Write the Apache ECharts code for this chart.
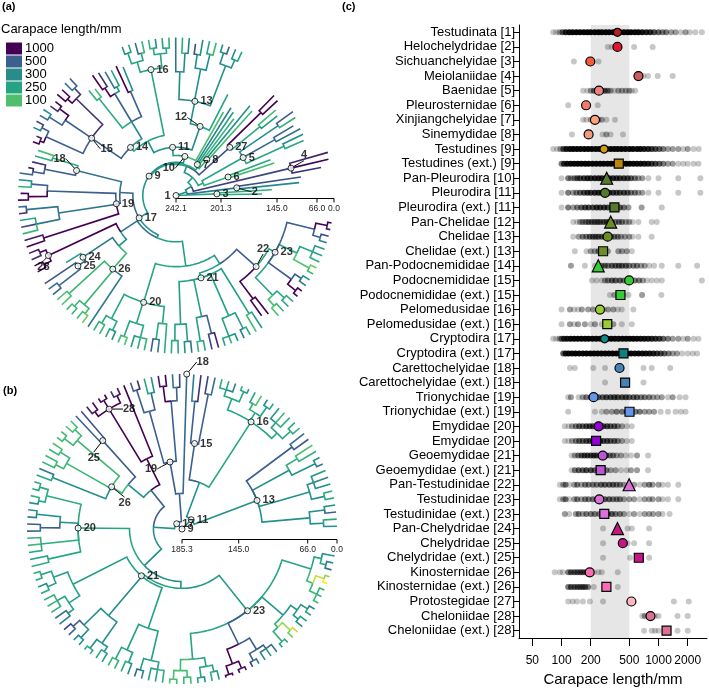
<!DOCTYPE html>
<html>
<head>
<meta charset="utf-8">
<script src="https://cdn.jsdelivr.net/npm/echarts@6/dist/echarts.min.js"></script>
</head>
<body style="margin:0">
<div id="chart" style="width:709px;height:692px"></div>
<script type="text/javascript">
// ---- panel (c) data ----
var rowLabels = ['Testudinata [1]', 'Helochelydridae [2]', 'Sichuanchelyidae [3]', 'Meiolaniidae [4]', 'Baenidae [5]',
  'Pleurosternidae [6]', 'Xinjiangchelyidae [7]', 'Sinemydidae [8]', 'Testudines [9]', 'Testudines (ext.) [9]',
  'Pan-Pleurodira [10]', 'Pleurodira [11]', 'Pleurodira (ext.) [11]', 'Pan-Chelidae [12]', 'Chelidae [13]',
  'Chelidae (ext.) [13]', 'Pan-Podocnemididae [14]', 'Podocnemididae [15]', 'Podocnemididae (ext.) [15]',
  'Pelomedusidae [16]', 'Pelomedusidae (ext.) [16]', 'Cryptodira [17]', 'Cryptodira (ext.) [17]',
  'Carettochelyidae [18]', 'Carettochelyidae (ext.) [18]', 'Trionychidae [19]', 'Trionychidae (ext.) [19]',
  'Emydidae [20]', 'Emydidae [20]', 'Geoemydidae [21]', 'Geoemydidae (ext.) [21]', 'Pan-Testudinidae [22]',
  'Testudinidae [23]', 'Testudinidae (ext.) [23]', 'Pan-Chelydridae [24]', 'Chelydridae [25]',
  'Chelydridae (ext.) [25]', 'Kinosternidae [26]', 'Kinosternidae (ext.) [26]', 'Protostegidae [27]',
  'Cheloniidae [28]', 'Cheloniidae (ext.) [28]'];

var cladeMean = [377, 377, 198, 621, 243, 179, 221, 190, 274, 389, 292, 281, 351, 321, 299, 268, 239, 498, 405,
  249, 296, 278, 435, 396, 452, 214, 502, 241, 227, 266, 253, 498, 245, 276, 377, 428, 626, 195, 290, 525, 826, 1210];

// [carapace length mm, number of taxa at about that size]
var speciesLengths = [
  [[82,1],[88,1],[95,2],[102,4],[110,8],[120,12],[130,14],[142,15],[155,15],[170,15],[185,15],[200,15],[220,15],[240,15],[260,15],[285,15],[310,15],[340,15],[370,15],[400,15],[440,15],[480,15],[520,14],[570,12],[620,12],[680,10],[750,8],[820,7],[900,5],[1000,4],[1100,3],[1200,3],[1350,2],[1500,2],[1700,1],[1900,2],[2100,1],[2400,1],[2800,1]],
  [[300,1],[330,1],[377,1],[560,1],[870,1]],
  [[134,1],[198,1],[240,1]],
  [[620,1],[700,1],[780,1],[980,1],[1400,1]],
  [[167,1],[185,1],[200,2],[215,3],[230,4],[245,4],[260,4],[280,4],[300,3],[320,2],[350,1],[385,2],[420,2],[460,2],[500,2],[530,1],[575,1]],
  [[117,1],[177,1],[236,1]],
  [[167,1],[180,1],[200,2],[221,2],[240,2],[260,2],[290,1],[356,1]],
  [[128,1],[188,1],[265,1],[290,2],[320,1],[430,1]],
  [[82,1],[90,1],[97,2],[104,5],[112,9],[122,12],[132,14],[144,15],[157,15],[172,15],[188,15],[205,15],[225,15],[245,15],[268,15],[292,15],[320,15],[350,15],[380,15],[415,15],[455,15],[500,14],[545,13],[600,12],[650,11],[710,9],[780,8],[850,6],[930,5],[1020,4],[1120,3],[1250,2],[1400,2],[1600,2],[1800,1],[2000,2],[2300,1],[2600,1]],
  [[100,3],[106,6],[114,10],[124,12],[135,14],[147,15],[160,15],[175,15],[190,15],[208,15],[228,15],[250,15],[272,15],[298,15],[325,15],[355,15],[388,15],[424,15],[463,15],[505,14],[550,12],[600,12],[655,11],[715,9],[780,8],[850,6],[930,5],[1020,4],[1120,3],[1250,2],[1400,2],[1600,1],[1800,1],[2000,1],[2300,1],[2580,1]],
  [[100,1],[117,3],[125,2],[135,3],[145,4],[155,5],[170,6],[185,7],[200,7],[220,8],[240,8],[260,8],[285,7],[310,7],[340,7],[370,6],[400,6],[440,6],[480,5],[520,4],[570,3],[620,2],[680,2],[785,1],[1000,1],[1600,1],[2700,1]],
  [[100,1],[117,3],[131,2],[142,3],[155,4],[170,5],[185,6],[200,6],[220,7],[240,7],[260,7],[285,6],[310,6],[340,6],[370,5],[400,5],[440,5],[480,4],[520,3],[570,3],[620,2],[680,2],[785,1],[1000,1],[1600,1],[2700,1]],
  [[100,1],[117,3],[132,2],[145,3],[160,4],[175,5],[190,5],[210,5],[230,6],[250,6],[275,6],[300,5],[330,5],[360,4],[400,4],[440,3],[490,2],[670,2],[1080,1]],
  [[132,1],[145,1],[155,2],[165,3],[178,3],[190,4],[205,4],[220,4],[235,4],[250,4],[270,4],[290,4],[310,4],[330,4],[360,3],[390,3],[420,3],[460,2],[500,2],[540,1],[620,1],[850,1],[960,1]],
  [[132,1],[150,2],[165,3],[180,3],[195,4],[210,4],[225,4],[240,4],[260,4],[280,4],[300,4],[325,3],[350,3],[380,3],[410,2],[450,2],[500,2],[540,1],[620,1],[850,1]],
  [[137,1],[181,1],[200,2],[220,2],[240,3],[268,3],[300,2],[385,2],[420,2],[470,2],[530,1]],
  [[125,2],[174,1],[221,1],[240,2],[260,3],[280,3],[300,3],[330,4],[360,4],[390,4],[420,4],[460,4],[500,3],[550,3],[600,3],[660,2],[720,2],[800,1],[900,1],[1080,1],[1600,1],[2500,1]],
  [[206,1],[230,1],[260,1],[280,2],[300,3],[330,4],[360,4],[400,4],[440,3],[480,3],[520,3],[570,3],[630,3],[690,2],[760,1],[850,1],[960,1],[1080,1],[2800,1]],
  [[316,1],[350,2],[390,2],[430,1],[490,1],[677,2],[1070,1]],
  [[100,1],[122,2],[135,1],[148,1],[162,2],[188,2],[211,2],[249,2],[275,1],[302,2],[342,2],[380,1],[418,1],[550,1]],
  [[100,1],[122,2],[135,1],[148,2],[174,2],[200,1],[221,2],[260,1],[296,2],[342,2],[418,1],[530,1]],
  [[82,1],[88,1],[95,2],[100,4],[106,7],[114,10],[124,13],[135,15],[147,15],[160,15],[175,15],[190,15],[208,15],[228,15],[250,15],[272,15],[298,15],[325,15],[355,15],[388,15],[424,15],[463,15],[505,14],[550,13],[600,12],[655,11],[715,10],[780,9],[850,8],[930,7],[1020,6],[1120,4],[1250,3],[1400,2],[1600,2],[1800,1],[2000,2],[2300,1],[2580,1]],
  [[104,4],[110,8],[118,11],[128,13],[139,15],[152,15],[166,15],[181,15],[198,15],[216,15],[236,15],[258,15],[282,15],[308,15],[336,15],[367,15],[400,15],[437,15],[477,14],[520,13],[570,12],[622,12],[680,11],[742,10],[810,9],[885,8],[966,6],[1055,5],[1150,4],[1270,3],[1400,2],[1550,2],[1750,1],[2000,1],[2250,1],[2500,1]],
  [[122,1],[137,1],[212,1],[281,1],[396,1],[700,1],[850,1],[1320,1]],
  [[281,1],[452,1],[700,1]],
  [[117,1],[125,2],[150,1],[165,2],[180,3],[200,3],[220,4],[240,4],[265,4],[290,5],[320,5],[350,5],[380,5],[420,5],[460,5],[500,4],[550,4],[600,4],[660,3],[720,3],[800,3],[880,2],[970,2],[1080,2],[1250,1],[1400,2],[1650,1],[1900,1]],
  [[117,1],[221,1],[260,1],[290,2],[330,2],[370,3],[420,3],[470,4],[520,4],[580,3],[640,3],[720,2],[800,2],[900,2],[1050,1],[1250,1],[1500,1],[1700,1],[1900,1]],
  [[108,1],[118,1],[128,2],[140,3],[152,4],[165,4],[180,5],[195,5],[210,5],[230,5],[250,5],[270,5],[295,5],[320,4],[350,4],[380,3],[420,2],[470,1],[530,1]],
  [[108,1],[118,1],[128,2],[140,3],[152,4],[165,4],[180,5],[195,5],[210,5],[227,5],[250,5],[270,5],[295,5],[320,4],[350,4],[380,3],[420,2],[470,1],[530,1]],
  [[127,1],[137,2],[148,3],[160,4],[172,5],[185,5],[200,5],[215,5],[230,5],[250,5],[270,4],[290,4],[315,3],[340,3],[370,2],[410,2],[460,1],[520,1],[600,2],[780,1]],
  [[127,1],[137,3],[150,4],[165,4],[180,5],[200,5],[220,4],[240,4],[265,3],[290,3],[320,2],[360,2],[410,1],[470,1],[520,2],[600,2],[780,1]],
  [[96,1],[104,2],[110,3],[120,1],[135,2],[145,3],[160,2],[175,3],[190,3],[210,3],[230,3],[255,4],[280,4],[310,4],[340,4],[370,3],[400,3],[440,2],[500,2],[560,2],[640,1],[720,2],[800,3],[870,2],[1000,2],[1100,1],[1250,1],[1600,1]],
  [[96,1],[104,2],[110,3],[120,1],[135,2],[145,3],[160,2],[175,3],[190,3],[210,3],[230,3],[255,4],[280,4],[310,4],[340,3],[370,3],[400,3],[440,2],[500,2],[560,2],[640,1],[720,2],[800,2],[870,2],[1000,2],[1100,1],[1250,1],[1600,1]],
  [[108,2],[120,1],[140,2],[150,3],[165,2],[180,3],[200,3],[220,3],[245,3],[276,3],[300,4],[330,4],[360,3],[400,3],[440,2],[500,1],[560,2],[640,1],[720,2],[800,2],[880,2],[1000,2],[1100,1],[1300,1]],
  [[268,1],[377,1],[480,1],[530,1],[800,1]],
  [[268,1],[428,1],[480,1],[560,1],[800,1]],
  [[268,1],[509,1],[626,1],[800,1]],
  [[85,1],[96,1],[103,1],[117,3],[125,4],[135,4],[145,4],[155,4],[165,4],[175,3],[185,3],[195,2],[215,1],[240,1],[260,1],[380,1]],
  [[117,3],[125,4],[135,4],[145,4],[155,4],[165,4],[175,4],[188,3],[215,1],[281,1],[380,1]],
  [[117,1],[130,1],[144,1],[166,1],[196,1],[268,1],[525,1],[1440,1],[2050,1]],
  [[680,1],[720,2],[780,2],[850,2],[920,1],[1000,1],[1570,1],[2000,1]],
  [[710,1],[850,1],[920,1],[1000,1],[1210,1],[1570,1],[2000,1]]
];

var xTicks = [50, 100, 200, 500, 1000, 2000];
var bandRange = [200, 500];

// marker styles for panel (c)
var markerShape = ['circle','circle','circle','circle','circle','circle','circle','circle','circle','rect',
  'triangle','circle','rect','triangle','circle','rect','triangle','circle','rect','circle','rect',
  'circle','rect','circle','rect','circle','rect','circle','rect','circle','rect',
  'triangle','circle','rect','triangle','circle','rect','circle','rect','circle','circle','rect'];
var markerColor = ['#b22222','#e3152f','#f25a38','#cd5c5c','#f08080','#f47a6b','#ffa07a','#ee9a7c','#cf9b12','#b8860b',
  '#557a2e','#557a2e','#557a2e','#6b8e23','#6b8e23','#6b8e23','#32cd32','#32cd32','#32cd32','#9acd32','#9acd32',
  '#0e8b8b','#0e8080','#4682b4','#4682b4','#6495ed','#6495ed','#9400d3','#9400d3','#ba55d3','#ba55d3',
  '#dd6fdd','#dd6fdd','#dd6fdd','#c71585','#c71585','#c71585','#ff69b4','#ff69b4','#ffb6c1','#db7093','#db7093'];
var smallRows = [0, 8, 21];

// ---- trees: (children)nLabel@age=carapace ; leaves default to age 0 and parent's size ----
var treeA = '(' +
  '(@160,@150)n3@205=200,' +
  '((@100=330,@95=560)n2@185=380,' +
   '((@40=700,@5=1000,@0.5=780)n4@111=620,' +
    '(((@140=120,@145=236)n6@191=180,' +
      '((@70=200,@66=300)@110=250,(@66=410,@75=470)@120=440,(@60=180,@55=520)@100=300)n5@169=250)@215=220,' +
     '(((@90=270,@85=140)@130=200,(@70=1440,@68=2050)@110=1000)n27@174=525,' +
      '(((@120=130,@115=300)n8@199=190,(@150=165,@145=260,@140=356)n7@208=220)@210=220,' +
       '(' +
        // Pan-Pleurodira
        '(@150=120,' +
         '((@120=250,' +
           '(((=250,=300)@40,(=500,=300)@30)@70=300,((=150,=250)@50,(=300,@20=560)@60)@90=300,((=350,=200)@60,=400)@100=320)n13@150=300' +
          ')n12@173=320,' +
          '((((=200,=250)@40,(=300,=180)@35)@60=250,((=150,=420)@45,(=250,=300)@30)@70=250)n16@91=250,' +
           '(((@70=300,@60=1600)@120=500,((@66=250,@60=400)@100=300,(@50=700,@45=2500)@90=1000)@110=500,(@80=125,@75=174)@100=200)@160=300,' +
            '(((=500,=400)@40,(@10=1000,@8=2800)@50=1000)@70=700,((@20=1100,@15=680)@50=1000,(=300,=450)@35)@80=500,((=600,=350)@30,(@25=800,@20=1200)@45=1000)@60=500)n15@143=500' +
           ')n14@180=240' +
          ')@185=300' +
         ')n11@198=280' +
        ')n10@205.8=290,' +
        // Pan-Cryptodira
        '((((@50=122,@45=212)@90=200,(@40=700,(@30=850,=450)@50=500)@80=500)n18@142=400,' +
          '(((=300,=200)@50,(@10=1900,=1000)@40=1000)@90=500,((=450,=700)@30,(=250,=600,=150)@60)@110=400,(=800,=1200)@70=1000)n19@186=500' +
         ')@190=450,' +
         '((((=850,=700)@40,(=1500,=2000)@35)n28@66=1000,' +
            '((@90=268,(=530,(=420,=480)@40=450)n25@106=430)n24@124=380,' +
             '((=120,=100)@50,((=150,=180)@30,(=130,=90)@35)@60,=380)n26@149=150' +
            ')@170=300' +
           ')@180=400,' +
          '((((=200,=150)@40,(=250,=300)@35)@70,((=130,=110)@30,(=270,=220,=180)@45)@80,((=500,=350)@50,=200)@90)n20@124=240,' +
           '((((=200,=250)@50,(=300,=400)@45)@90,((=160,=220)@40,(=600,=780)@60=500)@100,((=250,=180,=300)@30,(=350,=200)@35)@85,(=130,=270)@70)n21@160=260,' +
            '((@40=1600,@30=1200)@90=1000,' +
             '(((=100,=150)@40=120,(=250,=180)@35)@70,((@0.5=1000,=1200)@20=1000,(=400,=300)@30)@60=500,((=130,=90)@25=100,(=200,=250,=270)@40)@80,((=350,=600)@30,(=800,=1000)@15=1000)@60=500)n23@119=245' +
            ')n22@133=500' +
           ')@165=270' +
          ')@175=260' +
         ')@200=300' +
        ')n17@203=280' +
       ')n9@212=280' +
      ')@213=260' +
     ')@214=300' +
    ')@220=260' +
   ')@226=300' +
  ')@232=300' +
')n1@242.1=300';

var treeB = '(' +
  '((((=300,=250)@30,(=500,=300)@25)@60,((=250,=200)@20,(=300,=350,=280)@35)@50,((=400,=300)@15,(=180,=120)@45=200)@70,(=520,=450)@40=500)n13@118=300,' +
   '((((=200,=250)@20,(=180,=150,=300)@30)@45,((=250,=300)@15,(=100,=250)@25=180)@40,((=270,=220)@10,(=350,=250,=200)@20)@35)n16@62=250,' +
    '((=450,=600)@40=500,(=700,=350)@60)n15@111=500' +
   ')@150=300' +
  ')n11@176=300,' +
  '((n18=450,' +
    '(((=600,=400)@30,(=1000,=800)@25=1000)@60,((=300,=250)@35,(=700,=500)@20)@70)n19@132=500' +
   ')@160=500,' +
   '(((=1800,((=850,=700)@15,(=1000,=900)@10,(=950,=800)@20)n28@33=1000)@120=1000,' +
      '((=550,=480)n25@74=500,' +
       '(((=120,=100)@20,(=150,=130)@15)@40,((=110,=160)@25,(=140,=180)@30)@50,(=380,=250)@35=300)n26@116=150' +
      ')@130=300' +
     ')@150=500,' +
    '((((=200,=250)@15,(=180,=300)@20)@35=220,((=300,=350)@20,(=500,=450)@30=500)@70=300,(=180,=140,=230)@30=200,(=260,=210)@40)n20@91=250,' +
     '(((((=200,=250)@15,(=300,=220)@20)@40,((=180,=160,=200)@25,(=400,=350)@30)@45)@70,(((=600,=500)@20=500,(=300,=280)@15)@40,((=250,=200)@10,(=230,=270)@22)@35)@80=300,(((=150,=180)@20,(=220,=300)@25)@50,((=450,=350)@18,(=260,=240,=210)@28)@45)@90=260)n21@139=260,' +
      '((((=100,=120)@10=110,(=150,=130)@15)@30=130,((=250,=300)@12,(=200,=280)@20)@35)@55=250,' +
       '(((=1000,=1200)@5=1000,(=900,=800)@8=1000)@25=1000,((=600,=400)@12=500,(=350,=300,=450)@20)@30)@60=500,' +
       '(((=250,=180)@10,(=90,=70)@15=80)@40=200,((=300,=260)@18,(=220,=330)@14)@32)@50=280,' +
       '(((=150,=200,=180)@12,(=60,=80)@10=70)@30=150,((=400,=350)@15,=280)@28)@45=250)n23@90=280' +
     ')@142=300' +
    ')@148=300' +
   ')@165=300' +
  ')n17@180=300' +
')n9@185.3=300';

// time-scale ticks (Ma) of each tree
var scaleAgesA = [242.1, 201.3, 145.0, 66.0, 0.0];
var scaleAgesB = [185.3, 145.0, 66.0, 0.0];

// ---- layout settings ----
var radiiA = [0, 45, 101, 141, 158];
var radiiB = [0, 56.7, 125.7, 155];
var centerA = [176, 195.5], centerB = [182, 529];
var barOffsetA = 3, barOffsetB = 10.5;
var sizeStops = [60, 100, 250, 300, 500, 1000];
var viridis = ['#fde725', '#4ec36b', '#25a584', '#21908d', '#3b5f8f', '#440154'];

function makeScale(ages, radii) {
  return function (age) {
    if (age >= ages[0]) return radii[0];
    for (var i = 1; i < ages.length; i++) {
      if (age >= ages[i]) {
        var t = (ages[i - 1] - age) / (ages[i - 1] - ages[i]);
        return radii[i - 1] + t * (radii[i] - radii[i - 1]);
      }
    }
    return radii[radii.length - 1];
  };
}

function colorIndex(v) {
  if (v <= sizeStops[0]) return 0;
  if (v >= sizeStops[5]) return 5;
  for (var i = 1; i < sizeStops.length; i++) {
    if (v <= sizeStops[i]) return i - 1 + Math.log(v / sizeStops[i - 1]) / Math.log(sizeStops[i] / sizeStops[i - 1]);
  }
}

function parseTree(str) {
  var pos = 0;
  function node() {
    var n = { children: [], age: 0, val: null, name: '' };
    if (str[pos] === '(') {
      pos++;
      n.children.push(node());
      while (str[pos] === ',') { pos++; n.children.push(node()); }
      pos++;
    }
    var m = /^(n\d+)?(@[\d.]+)?(=[\d.]+)?/.exec(str.slice(pos));
    pos += m[0].length;
    if (m[1]) n.name = m[1].slice(1);
    if (m[2]) n.age = +m[2].slice(1);
    if (m[3]) n.val = +m[3].slice(1);
    return n;
  }
  return node();
}

function buildTree(str, scale, a0, a1) {
  var root = parseTree(str.replace(/\s+/g, ''));
  var leaves = [];
  (function walk(n, pv) {
    if (n.val == null) n.val = pv;
    if (!n.children.length) leaves.push(n);
    n.children.forEach(function (c) { walk(c, n.val); });
  })(root, 300);
  leaves.forEach(function (l, i) { l.angle = a0 + (a1 - a0) * i / (leaves.length - 1); });
  (function place(n) {
    if (n.children.length) {
      n.children.forEach(place);
      n.angle = (n.children[0].angle + n.children[n.children.length - 1].angle) / 2;
    }
  })(root);
  var branches = [], nodes = [];
  (function collect(n) {
    var r = scale(n.age);
    if (n.name) nodes.push({ name: n.name, value: [r, n.angle] });
    n.children.forEach(function (c) {
      branches.push([r, scale(c.age), c.angle, n.angle, colorIndex(c.val)]);
      collect(c);
    });
  })(root);
  return { branches: branches, nodes: nodes };
}

var layoutA = buildTree(treeA, makeScale(scaleAgesA, radiiA), 1, 350);
var layoutB = buildTree(treeB, makeScale(scaleAgesB, radiiB), 1, 350);

// label placement for node numbers: 'left' or [dx, dy] from the node
var labelShiftA = { 1: 'left', 2: [18, 4], 4: [13, -13], 10: [-16, 12], 12: [-19, -9], 15: [15, 11], 18: [-17, -12], 22: [7, -18], 28: [-5, 11] };
var labelShiftB = { 18: [16, -12], 19: [-19, 7], 25: [-9, 17], 26: [13, 16], 28: [20, 0] };

function nodeItems(nodes, shifts) {
  return nodes.map(function (n) {
    var s = shifts[n.name];
    var item = { name: n.name, value: n.value };
    if (s === 'left') item.label = { position: 'left' };
    else if (s) {
      item.label = { position: 'inside' };
      item.labelLine = { show: true, smooth: 0.5, lineStyle: { color: '#000', width: 1 } };
      item.shift = s;
    }
    return item;
  });
}

function renderBranch(params, api) {
  var r0 = api.value(0), r1 = api.value(1), ang = api.value(2), angP = api.value(3);
  var pts = [];
  var steps = Math.max(1, Math.ceil(Math.abs(ang - angP) / 2));
  for (var k = 0; k <= steps; k++) pts.push(api.coord([r0, angP + (ang - angP) * k / steps]));
  pts.push(api.coord([r1, ang]));
  return {
    type: 'polyline',
    shape: { points: pts },
    style: { stroke: api.visual('color'), fill: null, lineWidth: 1.6 }
  };
}

function nodeSeries(polarIndex, items) {
  return {
    type: 'scatter', coordinateSystem: 'polar', polarIndex: polarIndex, z: 5,
    symbol: 'circle', symbolSize: 6, silent: true,
    itemStyle: { color: '#fff', borderColor: '#000', borderWidth: 1 },
    label: { show: true, formatter: '{b}', position: 'right', distance: 2, fontSize: 11, fontWeight: 'bold', color: '#000' },
    labelLayout: function (p) {
      var s = items[p.dataIndex].shift;
      return s ? { dx: s[0], dy: s[1] } : {};
    },
    data: items
  };
}

// time scale bar drawn along angle 0 of the tree's polar system
function scaleSeries(polarIndex, ages, radii, offset) {
  var rMax = radii[radii.length - 1];
  return {
    type: 'custom', coordinateSystem: 'polar', polarIndex: polarIndex, z: 3, silent: true,
    dimensions: ['r', 'ang', 'age'], encode: { radius: 0, angle: 1 },
    data: radii.map(function (r, i) { return [r, 0, ages[i]]; }),
    renderItem: function (params, api) {
      var p = api.coord([api.value(0), 0]);
      var y = p[1] + offset;
      var children = [
        { type: 'line', shape: { x1: p[0], y1: y, x2: p[0], y2: y + 4 }, style: { stroke: '#000', lineWidth: 1 } },
        { type: 'text', style: { x: p[0], y: y + 6, text: api.value(2).toFixed(1), align: 'center', verticalAlign: 'top',
            fontSize: 8.5, fontFamily: 'Liberation Sans', fill: '#222' } }
      ];
      if (params.dataIndex === 0) {
        var q0 = api.coord([0, 0]), q1 = api.coord([rMax, 0]);
        children.push({ type: 'line', shape: { x1: q0[0], y1: q0[1] + offset, x2: q1[0], y2: q1[1] + offset }, style: { stroke: '#000', lineWidth: 1 } });
      }
      return { type: 'group', children: children };
    }
  };
}

var dots = [];
speciesLengths.forEach(function (row, i) {
  row.forEach(function (d) {
    dots.push({ value: [Math.log10(d[0]), i], itemStyle: { opacity: 1 - Math.pow(0.78, d[1]) } });
  });
});
var markers = cladeMean.map(function (v, i) {
  var shape = markerShape[i];
  var size = shape === 'triangle' ? 12 : shape === 'rect' ? 9 : (smallRows.indexOf(i) >= 0 ? 8 : 9);
  return { value: [Math.log10(v), i], symbol: shape, symbolSize: size, itemStyle: { color: markerColor[i] } };
});

var nodesA = nodeItems(layoutA.nodes, labelShiftA);
var nodesB = nodeItems(layoutB.nodes, labelShiftB);

var myChart = echarts.init(document.getElementById('chart'));
var option = {
  animation: false,
  textStyle: { fontFamily: 'Liberation Sans' },
  title: [
    { text: '(a)', left: 2, top: 1, padding: 0, textStyle: { fontSize: 11, fontWeight: 'bold', color: '#000' } },
    { text: '(b)', left: 3, top: 385, padding: 0, textStyle: { fontSize: 11, fontWeight: 'bold', color: '#000' } },
    { text: '(c)', left: 342, top: 1, padding: 0, textStyle: { fontSize: 11, fontWeight: 'bold', color: '#000' } },
    { text: 'Carapace length/mm', left: 1, top: 23, padding: 0, textStyle: { fontSize: 13, fontWeight: 'normal', color: '#000' } }
  ],
  polar: [
    { center: centerA, radius: radiiA[radiiA.length - 1] },
    { center: centerB, radius: radiiB[radiiB.length - 1] }
  ],
  angleAxis: [
    { polarIndex: 0, type: 'value', min: 0, max: 360, startAngle: 0, clockwise: false, show: false },
    { polarIndex: 1, type: 'value', min: 0, max: 360, startAngle: 0, clockwise: false, show: false }
  ],
  radiusAxis: [
    { polarIndex: 0, type: 'value', min: 0, max: radiiA[radiiA.length - 1], show: false },
    { polarIndex: 1, type: 'value', min: 0, max: radiiB[radiiB.length - 1], show: false }
  ],
  grid: [
    { left: 519, right: 2, top: 25, bottom: 54, containLabel: false, outerBoundsMode: 'none' }
  ],
  xAxis: [
    {
      gridIndex: 0, type: 'value', min: Math.log10(36.4), max: 3.5,
      splitLine: { show: false },
      axisLine: { show: true, onZero: false, lineStyle: { color: '#000', width: 1 } },
      axisTick: { show: true, customValues: xTicks.map(Math.log10), length: 8, lineStyle: { color: '#000' } },
      axisLabel: {
        customValues: xTicks.map(Math.log10), fontSize: 12, color: '#000', margin: 17, hideOverlap: false,
        formatter: function (v) { return String(Math.round(Math.pow(10, v))); }
      },
      name: 'Carapace length/mm', nameLocation: 'middle', nameGap: 32,
      nameTextStyle: { fontSize: 15, color: '#000' }
    }
  ],
  yAxis: [
    {
      gridIndex: 0, type: 'category', data: rowLabels, inverse: true,
      axisLine: { show: true, onZero: false, lineStyle: { color: '#000', width: 1 } },
      axisTick: { show: true, alignWithLabel: true, length: 6, lineStyle: { color: '#000' } },
      axisLabel: { fontSize: 13, color: '#000', margin: 4, interval: 0 },
      splitLine: { show: false }
    }
  ],
  visualMap: [
    {
      type: 'continuous', show: false, seriesIndex: [0, 1], dimension: 4,
      min: 0, max: 5, inRange: { color: viridis }
    },
    {
      type: 'piecewise', seriesIndex: [6], orient: 'vertical', left: 6, top: 42,
      itemWidth: 16, itemHeight: 12, itemGap: 0, itemSymbol: 'rect', textGap: 3,
      align: 'left', selectedMode: false, padding: 0,
      textStyle: { fontSize: 13, color: '#000', lineHeight: 12 },
      pieces: [
        { value: 100, label: '100', color: '#4fbf6f' },
        { value: 250, label: '250', color: '#26a385' },
        { value: 300, label: '300', color: '#2a8b8b' },
        { value: 500, label: '500', color: '#3b5f8f' },
        { value: 1000, label: '1000', color: '#440154' }
      ]
    }
  ],
  series: [
    {
      type: 'custom', coordinateSystem: 'polar', polarIndex: 0, z: 2, silent: true,
      dimensions: ['r0', 'r1', 'ang', 'angP', 'size'], encode: { radius: 0, angle: 2 },
      renderItem: renderBranch, data: layoutA.branches
    },
    {
      type: 'custom', coordinateSystem: 'polar', polarIndex: 1, z: 2, silent: true,
      dimensions: ['r0', 'r1', 'ang', 'angP', 'size'], encode: { radius: 0, angle: 2 },
      renderItem: renderBranch, data: layoutB.branches
    },
    nodeSeries(0, nodesA),
    nodeSeries(1, nodesB),
    {
      type: 'scatter', xAxisIndex: 0, yAxisIndex: 0, z: 2, silent: true,
      symbol: 'circle', symbolSize: 6, itemStyle: { color: '#000' },
      data: dots,
      markArea: {
        silent: true, itemStyle: { color: '#e6e6e6' },
        data: [[{ xAxis: Math.log10(bandRange[0]) }, { xAxis: Math.log10(bandRange[1]) }]]
      }
    },
    {
      type: 'scatter', xAxisIndex: 0, yAxisIndex: 0, z: 4, silent: true,
      itemStyle: { borderColor: '#000', borderWidth: 1.2, opacity: 1 },
      data: markers
    },
    { type: 'scatter', xAxisIndex: 0, yAxisIndex: 0, data: [] },
    scaleSeries(0, scaleAgesA, radiiA, barOffsetA),
    scaleSeries(1, scaleAgesB, radiiB, barOffsetB)
  ]
};
myChart.setOption(option);
</script>
</body>
</html>
